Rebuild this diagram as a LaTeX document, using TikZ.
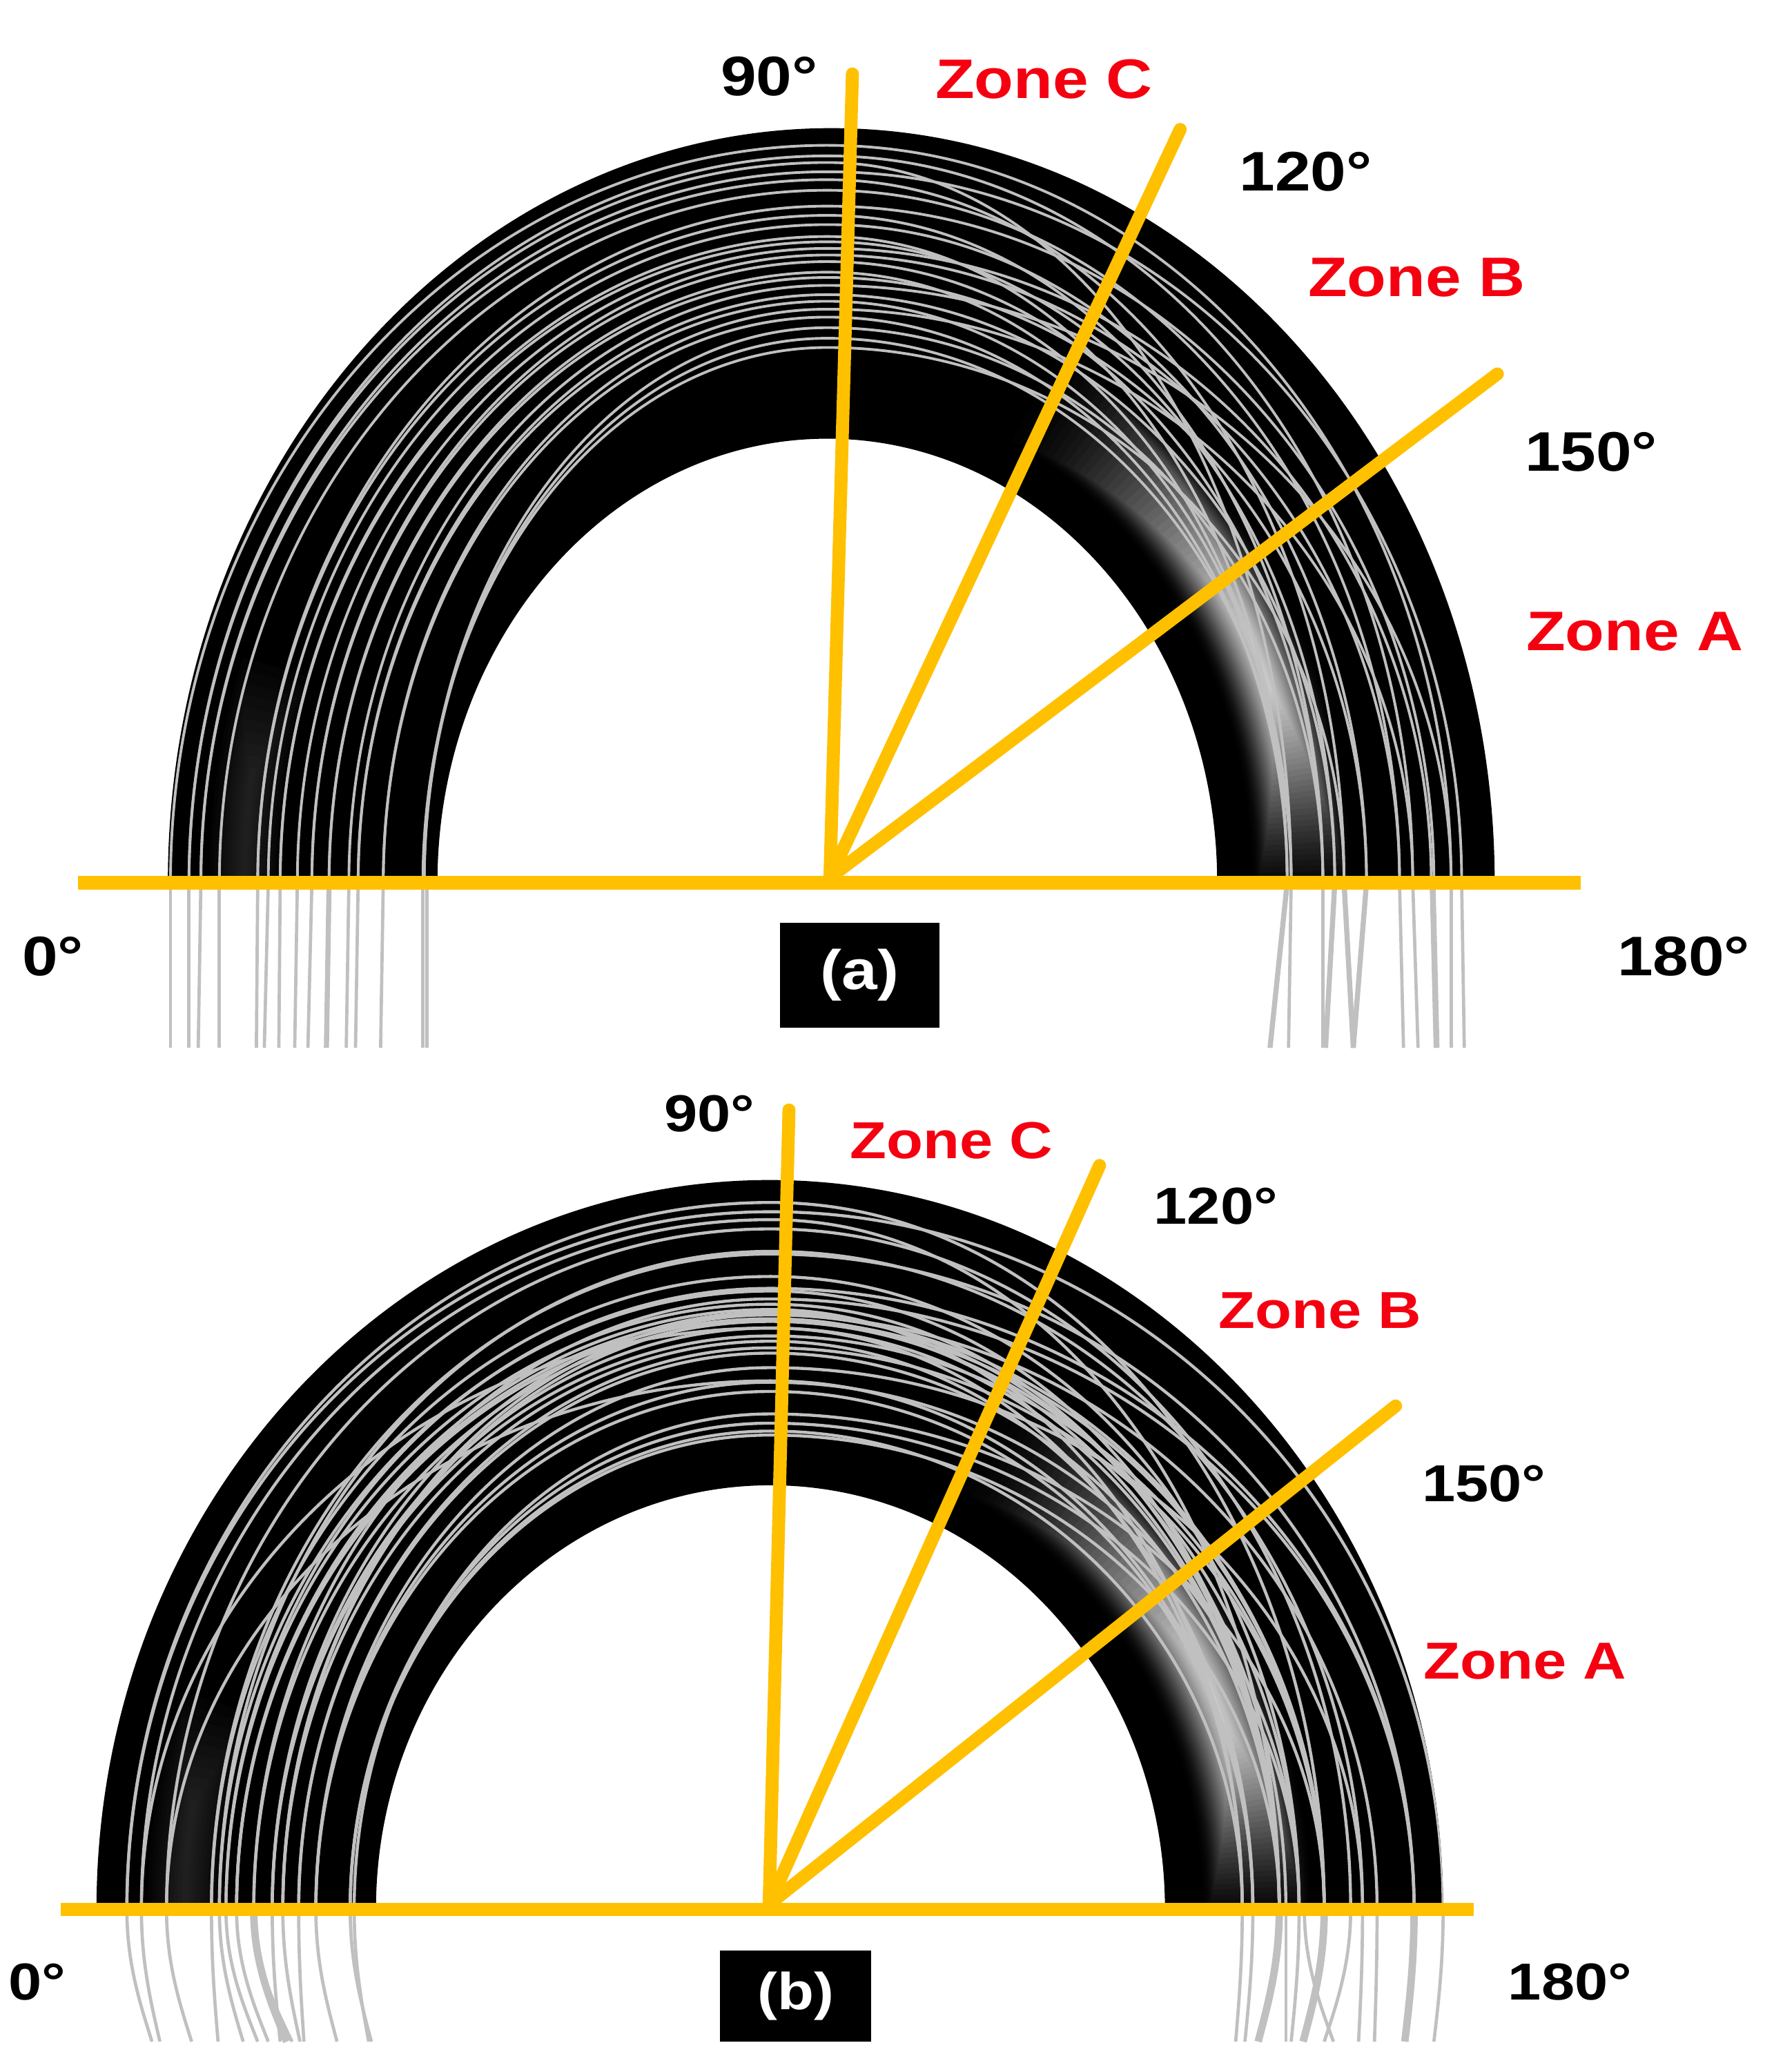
\documentclass[tikz,border=0pt]{standalone}
\usepackage{fontspec}
\setmainfont[FakeStretch=1.15]{Liberation Sans}
\usetikzlibrary{positioning}

\definecolor{axisyellow}{HTML}{FFC000}
\definecolor{raygray}{HTML}{C0C0C0}
\definecolor{zonered}{HTML}{F40010}

\tikzset{
    axisline/.style={draw=axisyellow, line width=5.9pt},
    spokeline/.style={draw=axisyellow, line width=5.6pt, line cap=round},
    raypath/.style={draw=raygray, line width=1.15pt},
    tailpath/.style={draw=raygray, line width=1.4pt},
    anglelabel/.style={text=black, font=\bfseries\fontsize{24}{28}\selectfont, inner sep=0pt},
    zonelabel/.style={text=zonered, font=\bfseries\fontsize{24}{28}\selectfont, inner sep=0pt},
    tagbox/.style={fill=black, text=white, font=\bfseries\fontsize{24}{28}\selectfont, inner sep=0pt},
    lowersize/.style={font=\bfseries\fontsize{22.4}{26}\selectfont}
}

% half ring: outer cx, rx, ry, then inner rx, ry
\newcommand{\halfring}[5]{(#1-#2,0) arc[start angle=180, end angle=0, x radius=#2, y radius=#3]
    -- (#4,0) arc[start angle=0, end angle=180, x radius=#4, y radius=#5] -- cycle}

\begin{document}
\begin{tikzpicture}[x=0.02cm, y=0.02cm]
    \useasboundingbox (0,0) rectangle (1342,1568);

    % Top panel
    \begin{scope}[shift={(626,900)}]
        \fill[black] \halfring{3}{502}{571}{295}{336};
        % bright zone
        \foreach \k in {1,...,40} {
            \draw[white, opacity={0.006+0.07*\k/40}, line width={(41-\k)*1.05pt}]
                ({-3+\k*0.6}:359 and 408) arc[start angle={-3+\k*0.6}, end angle={65-\k*0.95}, x radius=359, y radius=408];
        }
        \foreach \k in {1,...,10} {
            \draw[white, opacity=0.014, line width={(11-\k)*3pt}]
                ({160+\k}:441 and 501) arc[start angle={160+\k}, end angle=180, x radius=441, y radius=501];
        }
        \begin{scope}
            \clip \halfring{3}{502}{571}{295}{336};
            \foreach \xl/\xr/\h in {497/472/558, 483/443/550, 483/351/545, 474/480/538, 474/391/532,
                460/433/524, 431/459/512, 431/375/505, 423/408/498, 414/348/489, 414/384/485,
                401/457/480, 390/375/470, 390/433/475, 377/348/462, 377/408/458, 362/472/452,
                355/351/440, 355/384/445, 336/348/428, 336/443/434, 306/391/405, 305/375/420,
                305/351/412} {
                \draw[raypath] (-\xl,0) arc[start angle=180, end angle=90, x radius=\xl, y radius=\h]
                    arc[start angle=90, end angle=0, x radius=\xr, y radius=\h];
            }
        \end{scope}
        % tails under the axis
        \foreach \xa/\xb in {-497/-497, -483/-483, -474/-476, -460/-460, -431/-432, -423/-426,
            -414/-415, -401/-403, -390/-393, -362/-364, -355/-357, -336/-338, -306/-306, -303/-303,
            351/349, 375/375, 459/462, 472/472, 480/482, 433/436, 443/447, 457/460} {
            \draw[tailpath] (\xa,0) -- (\xb,-125);
        }
        \foreach \xa/\xb in {348/335, 384/377, 391/398, 408/398, -377/-379} {
            \draw[tailpath, line width=2.2pt] (\xa,0) -- (\xb,-125);
        }
    \end{scope}

    % Bottom panel
    \begin{scope}[shift={(583,123)}]
        \fill[black] \halfring{-0.5}{509.5}{552}{298.5}{321};
        % bright zone
        \foreach \k in {1,...,40} {
            \draw[white, opacity={0.006+0.07*\k/40}, line width={(41-\k)*1.15pt}]
                ({-3+\k*0.6}:368 and 392) arc[start angle={-3+\k*0.6}, end angle={65-\k*0.95}, x radius=368, y radius=392];
        }
        \foreach \k in {1,...,10} {
            \draw[white, opacity=0.016, line width={(11-\k)*3.2pt}]
                ({160+\k}:443 and 480) arc[start angle={160+\k}, end angle=180, x radius=443, y radius=480];
        }
        \begin{scope}
            \clip \halfring{-0.5}{509.5}{552}{298.5}{321};
            \foreach \xl/\xr/\h in {487/419/535, 487/509/528, 476/385/522, 476/357/440, 457/439/515,
                457/365/400, 423/487/496, 423/400/479, 417/385/468, 417/448/498, 412/385/458,
                412/487/470, 404/357/454, 404/419/450, 391/400/445, 391/487/462, 377/385/440,
                377/419/434, 369/365/430, 369/459/450, 357/385/421, 357/419/425, 344/448/410,
                344/400/399, 344/365/392, 318/400/368, 318/385/359, 315/419/375, 318/357/362,
                369/419/446, 377/390/452, 404/385/447} {
                \draw[raypath, line width=1.3pt] (-\xl,0) arc[start angle=180, end angle=90, x radius=\xl, y radius=\h]
                    arc[start angle=90, end angle=0, x radius=\xr, y radius=\h];
            }
        \end{scope}
        % tails under the axis
        \foreach \xa/\xb in {-487/-468, -476/-462, -457/-438, -423/-418, -417/-399, -412/-388,
            -404/-380, -391/-362, -377/-371, -369/-356, -357/-353, -344/-328, -318/-302, -315/-304,
            357/352, 365/359, 390/390, 400/394, 404/426, 439/419, 448/445, 459/457, 509/502} {
            \draw[tailpath] (\xa,0) .. controls (\xa,-40) and ({0.5*(\xa+\xb)},-70) .. (\xb,-100);
        }
        \foreach \xa/\xb in {385/369, 419/403, 487/480, -391/-366} {
            \draw[tailpath, line width=3.2pt] (\xa,0) .. controls (\xa,-40) and ({0.5*(\xa+\xb)},-70) .. (\xb,-100);
        }
    \end{scope}

    % Yellow axes, top panel
    \coordinate (originA) at (628,904);
    \coordinate (axisAleft) at (59,900);
    \coordinate (axisAright) at (1196,900);
    \coordinate (tipA90) at (645,1512);
    \coordinate (tipA120) at (893,1470);
    \coordinate (tipA150) at (1133,1285);
    \draw[axisline] (axisAleft) -- (axisAright);
    \draw[spokeline] (originA) -- (tipA90);
    \draw[spokeline] (originA) -- (tipA120);
    \draw[spokeline] (originA) -- (tipA150);

    % Yellow axes, bottom panel
    \coordinate (originB) at (582,127);
    \coordinate (axisBleft) at (46,123);
    \coordinate (axisBright) at (1115,123);
    \coordinate (tipB90) at (597,728);
    \coordinate (tipB120) at (832,686);
    \coordinate (tipB150) at (1056,504);
    \draw[axisline] (axisBleft) -- (axisBright);
    \draw[spokeline] (originB) -- (tipB90);
    \draw[spokeline] (originB) -- (tipB120);
    \draw[spokeline] (originB) -- (tipB150);

    % Labels, top panel
    \node (labelA90) [anglelabel] at (582,1510) {90°};
    \node (labelA120) [anglelabel] at (988,1438) {120°};
    \node (labelA150) [anglelabel] at (1204,1226) {150°};
    \node (labelA0) [anglelabel] at (40,844) {0°};
    \node (labelA180) [anglelabel] at (1274,844) {180°};
    \node (zoneAc) [zonelabel] at (790,1508) {Zone C};
    \node (zoneAb) [zonelabel] at (1072,1358) {Zone B};
    \node (zoneAa) [zonelabel] at (1237,1090) {Zone A};
    \node (tagA) [tagbox, minimum width=2.42cm, minimum height=1.58cm] at (650.5,830) {(a)};

    % Labels, bottom panel
    \node (labelB90) [anglelabel, lowersize] at (537,725) {90°};
    \node (labelB120) [anglelabel, lowersize] at (920,655) {120°};
    \node (labelB150) [anglelabel, lowersize] at (1123,445) {150°};
    \node (labelB0) [anglelabel, lowersize] at (28,68) {0°};
    \node (labelB180) [anglelabel, lowersize] at (1188,68) {180°};
    \node (zoneBc) [zonelabel, lowersize] at (720,705) {Zone C};
    \node (zoneBb) [zonelabel, lowersize] at (999,576) {Zone B};
    \node (zoneBa) [zonelabel, lowersize] at (1154,311) {Zone A};
    \node (tagB) [tagbox, lowersize, minimum width=2.28cm, minimum height=1.38cm] at (602,57.5) {(b)};
\end{tikzpicture}
\end{document}
